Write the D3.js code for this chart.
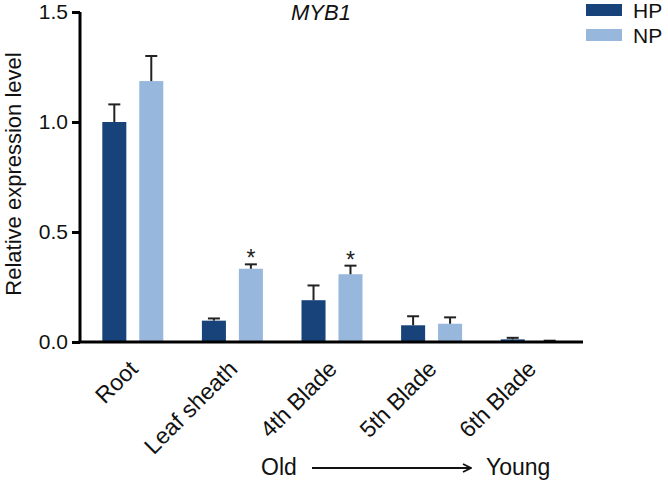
<!DOCTYPE html>
<html>
<head>
<meta charset="utf-8">
<script src="https://cdn.jsdelivr.net/npm/d3@7"></script>
<style>
  html, body { margin: 0; padding: 0; background: #fff; }
  svg { display: block; font-family: "Liberation Sans", Arial, sans-serif; }
</style>
</head>
<body>
<svg id="chart" width="668" height="483"></svg>
<script>
const categories = ["Root", "Leaf sheath", "4th Blade", "5th Blade", "6th Blade"];
const seriesNames = ["HP", "NP"];
const hpValues = [1.0, 0.097, 0.19, 0.076, 0.012];
const hpErrors = [0.08, 0.01, 0.067, 0.041, 0.007];
const npValues = [1.186, 0.333, 0.308, 0.083, 0.003];
const npErrors = [0.114, 0.02, 0.039, 0.029, 0.003];
const npSignificant = [false, true, true, false, false];
const yTicks = [0.0, 0.5, 1.0, 1.5];

const colors = { HP: "#17437a", NP: "#97b8dc" };

const svg = d3.select("#chart");

const y = d3.scaleLinear().domain([0, 1.5]).range([342, 12]);
const x0 = d3.scaleBand().domain(categories).range([83, 581]);
const x1 = d3.scaleBand().domain(seriesNames).range([-30.5, 30.5]).paddingInner(0.35);

const rows = categories.map((c, i) => ({
  cat: c,
  bars: [
    { s: "HP", v: hpValues[i], e: hpErrors[i], sig: false },
    { s: "NP", v: npValues[i], e: npErrors[i], sig: npSignificant[i] }
  ]
}));

const groups = svg.append("g").selectAll("g").data(rows).join("g")
  .attr("transform", d => `translate(${x0(d.cat) + x0.bandwidth() / 2},0)`);

groups.selectAll("rect").data(d => d.bars).join("rect")
  .attr("x", d => x1(d.s))
  .attr("width", x1.bandwidth())
  .attr("y", d => y(d.v))
  .attr("height", d => y(0) - y(d.v))
  .attr("fill", d => colors[d.s]);

// error bars (upper only)
const err = groups.selectAll("g.err").data(d => d.bars).join("g").attr("class", "err");
err.append("line")
  .attr("x1", d => x1(d.s) + x1.bandwidth() / 2)
  .attr("x2", d => x1(d.s) + x1.bandwidth() / 2)
  .attr("y1", d => y(d.v))
  .attr("y2", d => y(d.v + d.e))
  .attr("stroke", "#222").attr("stroke-width", 2);
err.append("line")
  .attr("x1", d => x1(d.s) + x1.bandwidth() / 2 - 6)
  .attr("x2", d => x1(d.s) + x1.bandwidth() / 2 + 6)
  .attr("y1", d => y(d.v + d.e))
  .attr("y2", d => y(d.v + d.e))
  .attr("stroke", "#222").attr("stroke-width", 2);
err.filter(d => d.sig).append("text")
  .attr("x", d => x1(d.s) + x1.bandwidth() / 2)
  .attr("y", d => y(d.v + d.e) + 2)
  .attr("text-anchor", "middle")
  .attr("font-size", 23)
  .attr("fill", "#222")
  .text("*");

// y axis
const yAxis = d3.axisLeft(y).tickValues(yTicks).tickFormat(d3.format(".1f")).tickSize(8).tickPadding(4);
const gy = svg.append("g").attr("transform", "translate(80,0)").call(yAxis);
gy.select(".domain").attr("stroke", "#000").attr("stroke-width", 3).attr("d", "M0,12V343");
gy.selectAll(".tick line").attr("stroke", "#000").attr("stroke-width", 3);
gy.selectAll(".tick text").attr("font-size", 21).attr("fill", "#111")
  .attr("font-family", "'Liberation Sans', Arial, sans-serif");

// x axis
const xAxis = d3.axisBottom(x0).tickSize(0).tickPadding(0);
const gx = svg.append("g").attr("transform", "translate(0,342)").call(xAxis);
gx.select(".domain").attr("stroke", "#000").attr("stroke-width", 3).attr("d", "M78.5,0H583");
gx.selectAll(".tick text")
  .attr("font-size", 23).attr("fill", "#111")
  .attr("font-family", "'Liberation Sans', Arial, sans-serif")
  .attr("text-anchor", "end")
  .attr("transform", "translate(-5,17) rotate(-45)")
  .attr("dy", "0.7em").attr("y", 0);

// y label
svg.append("text")
  .attr("transform", "translate(21,174) rotate(-90)")
  .attr("text-anchor", "middle")
  .attr("font-size", 22).attr("fill", "#111")
  .text("Relative expression level");

// title
svg.append("text")
  .attr("x", 321).attr("y", 20)
  .attr("text-anchor", "middle")
  .attr("font-size", 22).attr("font-style", "italic").attr("fill", "#111")
  .text("MYB1");

// legend
const leg = svg.append("g").selectAll("g").data(seriesNames).join("g")
  .attr("transform", (d, i) => `translate(586,${4 + i * 25})`);
leg.append("rect").attr("width", 36).attr("height", 12).attr("fill", d => colors[d]);
leg.append("text").attr("x", 47).attr("y", 13.5).attr("font-size", 21).attr("fill", "#111").text(d => d);

// Old -> Young
svg.append("text").attr("x", 261).attr("y", 475).attr("font-size", 23).attr("fill", "#111").text("Old");
svg.append("defs").append("marker").attr("id", "arr")
  .attr("viewBox", "0 0 10 10").attr("refX", 9).attr("refY", 5)
  .attr("markerWidth", 10).attr("markerHeight", 10).attr("markerUnits", "userSpaceOnUse")
  .attr("orient", "auto")
  .append("path").attr("d", "M1,1L9,5L1,9").attr("fill", "none").attr("stroke", "#111").attr("stroke-width", 1.8);
svg.append("line").attr("x1", 312).attr("x2", 471).attr("y1", 468).attr("y2", 468)
  .attr("stroke", "#111").attr("stroke-width", 2).attr("marker-end", "url(#arr)");
svg.append("text").attr("x", 486).attr("y", 475).attr("font-size", 23).attr("fill", "#111").text("Young");
</script>
</body>
</html>
